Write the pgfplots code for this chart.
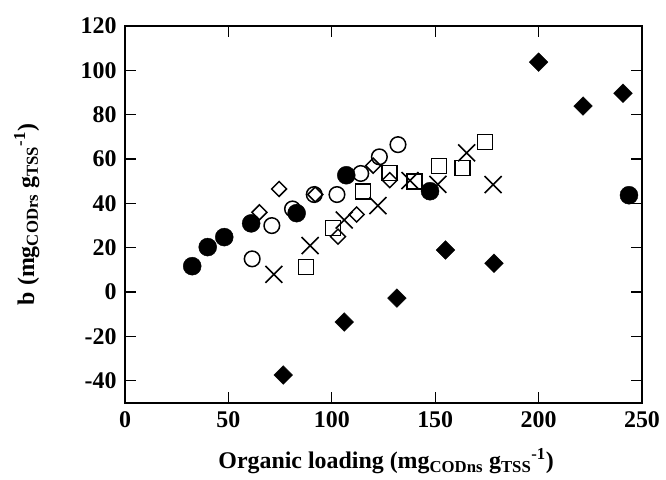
\documentclass[border=0pt]{standalone}
\usepackage{fontspec}
\setmainfont{Liberation Serif}
\usepackage{pgfplots}
\pgfplotsset{compat=1.18}
\begin{document}
\begin{tikzpicture}
\begin{axis}[
  scale only axis, width=517bp, height=377bp,
  xmin=0, xmax=250, ymin=-50, ymax=120,
  xtick={0,50,100,150,200,250},
  xticklabels={0,50,100,150,200,250},
  ytick={-40,-20,0,20,40,60,80,100,120},
  yticklabels={-40,-20,0,20,40,60,80,100,120},
  tick align=inside, major tick length=11bp,
  tick style={line width=1.3bp, black},
  axis line style={line width=1.3bp},
  ticklabel style={font=\fontsize{24}{26}\selectfont\bfseries},
  yticklabel style={xshift=-5bp},
  xticklabel style={yshift=-5bp},
  xlabel={\textbf{Organic loading (mg\textsubscript{CODns} g\textsubscript{TSS}\textsuperscript{-1})}},
  ylabel={\textbf{b (mg\textsubscript{CODrs} g\textsubscript{TSS}\textsuperscript{-1})}},
  label style={font=\fontsize{24}{26}\selectfont},
  xlabel style={at={(axis description cs:0.505,-0.155)}, anchor=center},
  ylabel style={at={(axis description cs:-0.19,0.5)}, anchor=center},
  clip=false,
]
% open circles
\addplot[only marks, mark=o, mark size=7.8bp, mark options={line width=1.5bp, black}] coordinates {
(61.5,15) (71,30) (81,37.5) (91.5,44) (102.5,44) (114,53.5) (123,61) (132,66.5)};
% open diamonds
\addplot[only marks, mark=square, mark size=5.3bp, mark options={rotate=45, line width=1.5bp, black}] coordinates {
(65,36) (74.5,46.5) (92,44) (103,25) (112,35) (120,57) (128,50.5)};
% open squares
\addplot[only marks, mark=square, mark size=7.5bp, mark options={line width=1.5bp, black}] coordinates {
(87.5,11.3) (100.6,28.9) (115,45.3) (128,53.8) (140,49.8) (151.8,56.8) (163.2,56) (174,67.6)};
% crosses
\addplot[only marks, mark=x, mark size=12bp, mark options={line width=1.6bp, black}] coordinates {
(72,8) (89.5,21) (106,32.5) (122.3,39) (137.8,50.3) (151.3,48.6) (165.2,62.8) (178,48.5)};
% filled circles
\addplot[only marks, mark=*, mark size=9bp, mark options={black, fill=black}] coordinates {
(32.5,11.7) (40,20.3) (48,24.8) (61,31) (83,35.6) (107,52.7) (147.5,45.5) (243.7,43.7)};
% filled diamonds
\addplot[only marks, mark=square*, mark size=6.6bp, mark options={rotate=45, black, fill=black}] coordinates {
(76.5,-37.4) (106,-13.5) (131.5,-2.7) (155,19) (178.4,13) (200,103.7) (221.5,83.9) (240.8,89.7)};
\end{axis}
\pgfresetboundingbox
\path (-125bp,-77bp) rectangle (541bp,403bp);
\end{tikzpicture}
\end{document}
